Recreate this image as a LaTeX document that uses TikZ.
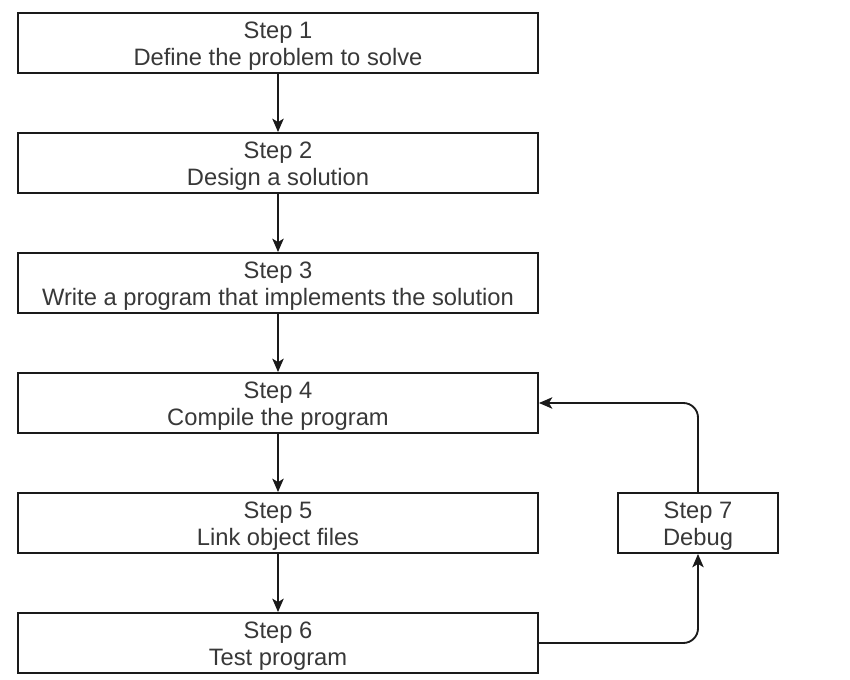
\documentclass[tikz,border=0pt]{standalone}
\usepackage{fontspec}
\setmainfont{Liberation Sans}
\usetikzlibrary{arrows.meta}
\definecolor{ink}{HTML}{1A1A1A}
\definecolor{txt}{HTML}{383838}
\begin{document}
\begin{tikzpicture}[x=0.75pt,y=-0.75pt,
  stepbox/.style={draw=ink,line width=1.4pt,fill=white,minimum width=390pt,minimum height=45pt,inner sep=0pt},
  smallbox/.style={stepbox,minimum width=120pt},
  steptext/.style={align=center,inner sep=0pt,text=txt,font=\fontsize{17.8}{20.5}\selectfont},
  flow/.style={draw=ink,line width=1.4pt,-{Stealth[length=10pt,width=8.5pt,inset=2.5pt]},rounded corners=11pt}]
\useasboundingbox (0,0) rectangle (850,680);
% boxes
\node[stepbox] (s1) at (278,43) {};
\node[stepbox] (s2) at (278,163) {};
\node[stepbox] (s3) at (278,283) {};
\node[stepbox] (s4) at (278,403) {};
\node[stepbox] (s5) at (278,523) {};
\node[stepbox] (s6) at (278,643) {};
\node[smallbox] (s7) at (698,523) {};
% labels, set slightly below the box centres
\node[steptext] (t1) at ([yshift=-2.2pt]s1.center) {Step 1\\Define the problem to solve};
\node[steptext] (t2) at ([yshift=-2.2pt]s2.center) {Step 2\\Design a solution};
\node[steptext] (t3) at ([yshift=-2.2pt]s3.center) {Step 3\\Write a program that implements the solution};
\node[steptext] (t4) at ([yshift=-2.2pt]s4.center) {Step 4\\Compile the program};
\node[steptext] (t5) at ([yshift=-2.2pt]s5.center) {Step 5\\Link object files};
\node[steptext] (t6) at ([yshift=-2.2pt]s6.center) {Step 6\\Test program};
\node[steptext] (t7) at ([yshift=-2.2pt]s7.center) {Step 7\\Debug};
% connectors
\draw[flow] (s1) -- (s2);
\draw[flow] (s2) -- (s3);
\draw[flow] (s3) -- (s4);
\draw[flow] (s4) -- (s5);
\draw[flow] (s5) -- (s6);
\draw[flow] (s6.east) -| (s7.south);
\draw[flow] (s7.north) |- (s4.east);
\end{tikzpicture}
\end{document}
